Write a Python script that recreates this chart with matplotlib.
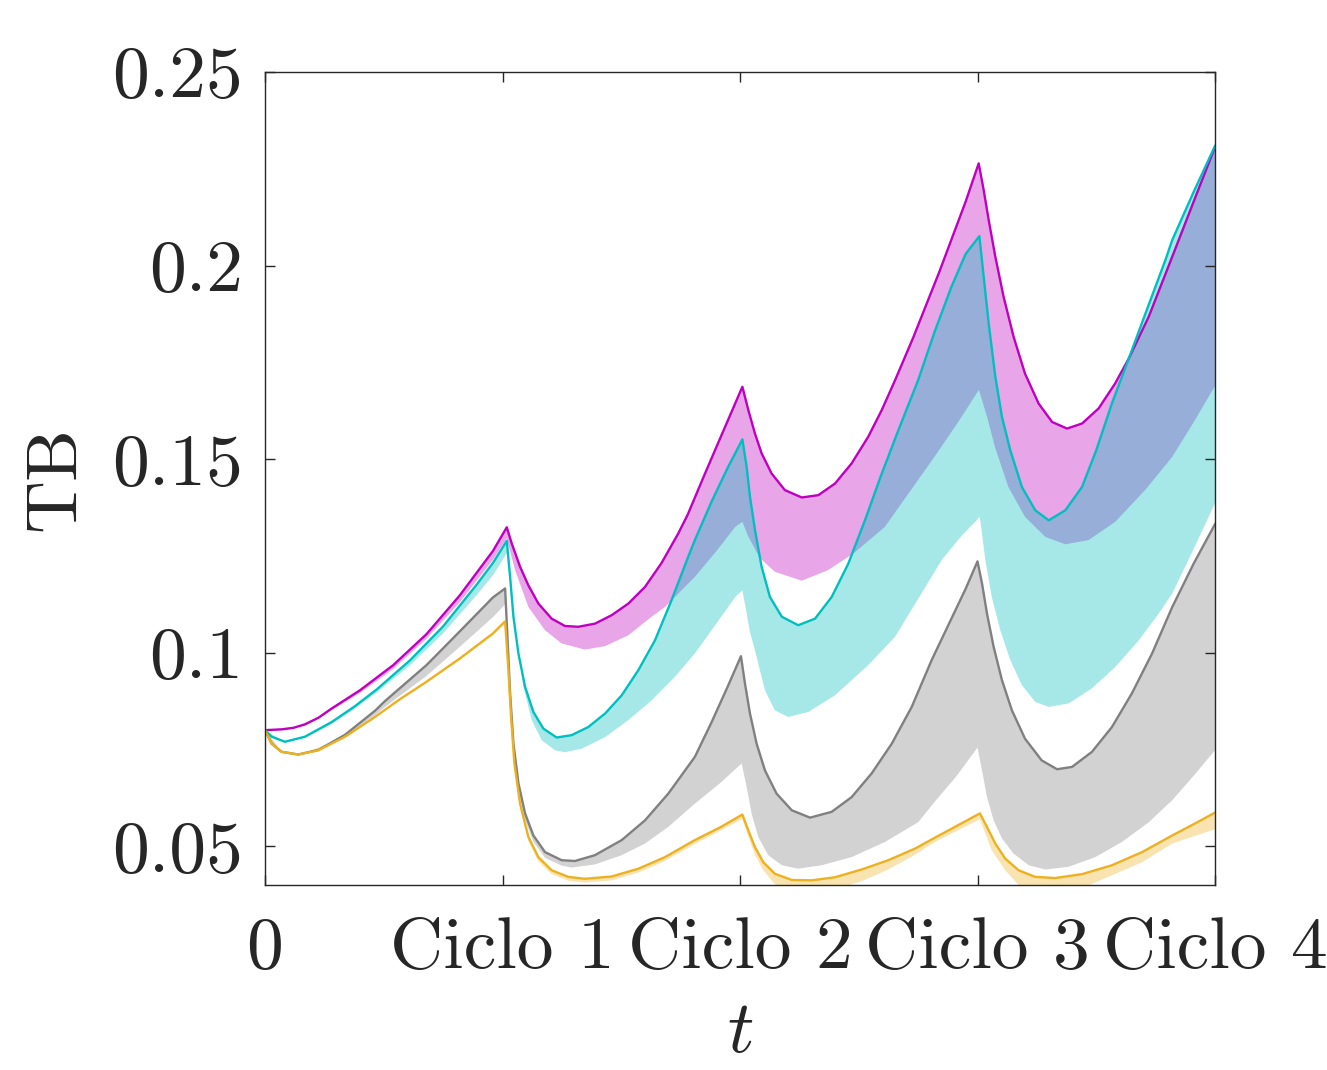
import numpy as np
import matplotlib
matplotlib.use("Agg")
import matplotlib.pyplot as plt

plt.rcParams['mathtext.fontset'] = 'cm'
plt.rcParams['font.family'] = 'cmr10'

# ---- values (t in cycles, TB) ----
mag_x = [0.00, 0.07, 0.12, 0.168, 0.225, 0.281, 0.40, 0.54, 0.68, 0.82, 0.96, 1.018, 1.039, 1.074,
         1.109, 1.151, 1.207, 1.263, 1.319, 1.389, 1.46, 1.53, 1.60, 1.67, 1.74, 1.78, 1.85,
         1.92, 1.97, 2.01, 2.035, 2.063, 2.091, 2.133, 2.189, 2.26, 2.33, 2.40, 2.47, 2.54,
         2.597, 2.653, 2.73, 2.84, 2.95, 3.005, 3.026, 3.047, 3.075, 3.11, 3.152, 3.20, 3.257,
         3.314, 3.377, 3.44, 3.51, 3.58, 3.637, 3.721, 3.82, 3.91, 4.00]
mag_y = [0.0800, 0.0802, 0.0806, 0.0815, 0.0832, 0.0856, 0.0903, 0.0968, 0.1048, 0.1148, 0.1263,
         0.1324, 0.1282, 0.1222, 0.1174, 0.1127, 0.1088, 0.1069, 0.1067, 0.1075, 0.1097, 0.1127,
         0.1170, 0.1232, 0.1308, 0.1357, 0.1459, 0.1559, 0.1630, 0.1687, 0.1627, 0.1566, 0.1515,
         0.1463, 0.1420, 0.1401, 0.1407, 0.1437, 0.1489, 0.1558, 0.1627, 0.1704, 0.1815, 0.1985,
         0.2165, 0.2264, 0.2195, 0.2118, 0.2023, 0.1919, 0.1816, 0.1721, 0.1644, 0.1596, 0.1579,
         0.1592, 0.1631, 0.1696, 0.1760, 0.1868, 0.2023, 0.2165, 0.2306]
mag_lo_x = [0.00, 0.168, 0.281, 0.40, 0.54, 0.68, 0.82, 0.96, 1.018, 1.053, 1.109, 1.179, 1.249,
            1.347, 1.432, 1.53, 1.628, 1.684, 1.81, 1.90, 1.98, 2.01, 2.035, 2.084, 2.147, 2.26,
            2.37, 2.477, 2.61, 2.82, 2.92, 3.006, 3.04, 3.074, 3.13, 3.20, 3.286, 3.37, 3.468,
            3.58, 3.707, 3.82, 3.91, 4.00]
mag_lo_y = [0.0800, 0.0811, 0.0852, 0.0896, 0.0958, 0.1036, 0.1130, 0.1240, 0.1295, 0.1213,
            0.1118, 0.1058, 0.1024, 0.1008, 0.1017, 0.1045, 0.1093, 0.1118, 0.1196, 0.1262,
            0.1325, 0.1338, 0.1300, 0.1244, 0.1209, 0.1186, 0.1213, 0.1256, 0.1325, 0.1507,
            0.1597, 0.1679, 0.1610, 0.1530, 0.1428, 0.1351, 0.1299, 0.1280, 0.1291, 0.1338,
            0.1421, 0.1506, 0.1595, 0.1689]

cyn_x = [0.00, 0.028, 0.084, 0.168, 0.281, 0.379, 0.47, 0.61, 0.75, 0.89, 0.96, 1.018, 1.032,
         1.046, 1.067, 1.095, 1.13, 1.172, 1.228, 1.291, 1.361, 1.432, 1.502, 1.572, 1.642,
         1.712, 1.782, 1.81, 1.88, 1.95, 2.01, 2.028, 2.042, 2.063, 2.091, 2.126, 2.176, 2.245,
         2.316, 2.386, 2.456, 2.526, 2.597, 2.667, 2.75, 2.82, 2.89, 2.95, 3.008, 3.026, 3.047,
         3.075, 3.103, 3.138, 3.187, 3.243, 3.30, 3.37, 3.44, 3.50, 3.566, 3.637, 3.707, 3.791,
         3.82, 3.91, 4.00]
cyn_y = [0.0800, 0.0783, 0.0770, 0.0783, 0.0821, 0.0862, 0.0905, 0.0980, 0.1068, 0.1175, 0.1232,
         0.1289, 0.1196, 0.1093, 0.0998, 0.0912, 0.0847, 0.0804, 0.0781, 0.0787, 0.0808, 0.0843,
         0.0890, 0.0955, 0.1032, 0.1136, 0.1248, 0.1291, 0.1390, 0.1480, 0.1551, 0.1480, 0.1403,
         0.1317, 0.1222, 0.1144, 0.1093, 0.1071, 0.1088, 0.1144, 0.1230, 0.1342, 0.1463, 0.1575,
         0.1704, 0.1830, 0.1945, 0.2030, 0.2076, 0.1971, 0.1851, 0.1713, 0.1609, 0.1523, 0.1428,
         0.1368, 0.1342, 0.1368, 0.1428, 0.1523, 0.1644, 0.1760, 0.1876, 0.2014, 0.2066, 0.2190,
         0.2309]
cyn_lo_x = [0.00, 0.084, 0.168, 0.281, 0.379, 0.47, 0.61, 0.75, 0.89, 0.96, 1.018, 1.039, 1.06,
            1.088, 1.123, 1.165, 1.221, 1.263, 1.333, 1.432, 1.53, 1.628, 1.726, 1.81, 1.90,
            1.98, 2.01, 2.028, 2.04, 2.063, 2.105, 2.147, 2.203, 2.288, 2.40, 2.54, 2.653, 2.85,
            2.93, 3.01, 3.033, 3.06, 3.096, 3.138, 3.187, 3.243, 3.30, 3.384, 3.482, 3.58, 3.679,
            3.763, 3.82, 3.91, 4.00]
cyn_lo_y = [0.0800, 0.0768, 0.0780, 0.0816, 0.0856, 0.0897, 0.0967, 0.1050, 0.1148, 0.1200,
            0.1257, 0.1154, 0.1025, 0.0912, 0.0826, 0.0774, 0.0748, 0.0743, 0.0752, 0.0782,
            0.0826, 0.0877, 0.0938, 0.0998, 0.1075, 0.1144, 0.1161, 0.1102, 0.1058, 0.1006,
            0.0903, 0.0851, 0.0834, 0.0847, 0.0890, 0.0968, 0.1041, 0.1240, 0.1300, 0.1351,
            0.1239, 0.1144, 0.1058, 0.0981, 0.0916, 0.0873, 0.0860, 0.0869, 0.0908, 0.0963,
            0.1032, 0.1101, 0.1153, 0.1268, 0.1386]

gry_x = [0.00, 0.028, 0.07, 0.14, 0.225, 0.337, 0.463, 0.505, 0.68, 0.82, 0.96, 1.011, 1.022,
         1.032, 1.046, 1.067, 1.095, 1.13, 1.179, 1.249, 1.305, 1.389, 1.502, 1.60, 1.698, 1.81,
         1.88, 1.95, 2.004, 2.021, 2.042, 2.07, 2.105, 2.154, 2.218, 2.295, 2.386, 2.47, 2.554,
         2.639, 2.723, 2.807, 2.88, 2.95, 3.0, 3.019, 3.04, 3.068, 3.103, 3.145, 3.20, 3.27,
         3.335, 3.398, 3.482, 3.566, 3.65, 3.735, 3.82, 3.91, 4.00]
gry_y = [0.0800, 0.0765, 0.0744, 0.0737, 0.0749, 0.0788, 0.0850, 0.0875, 0.0968, 0.1055, 0.1143,
         0.1166, 0.1025, 0.0895, 0.0766, 0.0663, 0.0585, 0.0528, 0.0485, 0.0464, 0.0462, 0.0477,
         0.0516, 0.0567, 0.0636, 0.0731, 0.0820, 0.0915, 0.0991, 0.0920, 0.0843, 0.0765, 0.0696,
         0.0636, 0.0593, 0.0574, 0.0589, 0.0627, 0.0688, 0.0765, 0.0860, 0.0981, 0.1075, 0.1165,
         0.1236, 0.1179, 0.1101, 0.1015, 0.0929, 0.0851, 0.0778, 0.0722, 0.0699, 0.0705, 0.0744,
         0.0808, 0.0895, 0.0998, 0.1118, 0.1230, 0.1332]
gry_lo_x = [0.00, 0.07, 0.14, 0.225, 0.337, 0.463, 0.505, 0.68, 0.82, 0.96, 1.011, 1.022, 1.032,
            1.046, 1.067, 1.095, 1.13, 1.179, 1.249, 1.291, 1.389, 1.502, 1.60, 1.698, 1.81,
            1.92, 2.007, 2.028, 2.049, 2.077, 2.119, 2.176, 2.245, 2.344, 2.47, 2.61, 2.75, 2.82,
            2.91, 3.0, 3.019, 3.04, 3.068, 3.103, 3.152, 3.216, 3.286, 3.384, 3.496, 3.608,
            3.721, 3.82, 3.91, 4.00]
gry_lo_y = [0.0800, 0.0743, 0.0736, 0.0747, 0.0784, 0.0838, 0.0860, 0.0940, 0.1015, 0.1092,
            0.1125, 0.1000, 0.0870, 0.0745, 0.0645, 0.0568, 0.0512, 0.0470, 0.0450, 0.0445,
            0.0453, 0.0477, 0.0507, 0.0550, 0.0610, 0.0665, 0.0714, 0.0653, 0.0584, 0.0524,
            0.0477, 0.0451, 0.0442, 0.0451, 0.0472, 0.0511, 0.0562, 0.0615, 0.0680, 0.0755,
            0.0696, 0.0627, 0.0567, 0.0520, 0.0481, 0.0451, 0.0440, 0.0447, 0.0472, 0.0511,
            0.0562, 0.0619, 0.0682, 0.0748]

org_x = [0.00, 0.028, 0.07, 0.14, 0.225, 0.337, 0.463, 0.561, 0.68, 0.82, 0.96, 1.011, 1.025,
         1.036, 1.05, 1.074, 1.109, 1.151, 1.207, 1.277, 1.347, 1.46, 1.572, 1.684, 1.81, 1.92,
         2.01, 2.035, 2.063, 2.098, 2.147, 2.218, 2.302, 2.40, 2.512, 2.624, 2.737, 2.82, 2.92,
         3.01, 3.04, 3.075, 3.117, 3.173, 3.243, 3.327, 3.44, 3.566, 3.693, 3.82, 3.91, 4.00]
org_y = [0.0800, 0.0765, 0.0744, 0.0737, 0.0748, 0.0783, 0.0834, 0.0877, 0.0925, 0.0985, 0.1050,
         0.1081, 0.0955, 0.0834, 0.0714, 0.0610, 0.0524, 0.0472, 0.0438, 0.0421, 0.0416, 0.0422,
         0.0442, 0.0472, 0.0516, 0.0550, 0.0582, 0.0541, 0.0498, 0.0459, 0.0429, 0.0413, 0.0412,
         0.0420, 0.0440, 0.0464, 0.0494, 0.0522, 0.0555, 0.0585, 0.0550, 0.0507, 0.0468, 0.0438,
         0.0421, 0.0418, 0.0428, 0.0451, 0.0485, 0.0528, 0.0557, 0.0587]
org_lo_x = [0.00, 0.07, 0.14, 0.337, 0.561, 0.82, 0.96, 1.011, 1.025, 1.036, 1.05, 1.074, 1.109,
            1.151, 1.207, 1.277, 1.347, 1.46, 1.572, 1.684, 1.81, 2.01, 2.035, 2.063, 2.098,
            2.147, 2.218, 2.302, 2.40, 2.512, 2.624, 2.737, 2.82, 3.01, 3.06, 3.117, 3.173, 3.243,
            3.327, 3.44, 3.566, 3.693, 3.82, 4.00]
org_lo_y = [0.0800, 0.0743, 0.0736, 0.0781, 0.0874, 0.0981, 0.1045, 0.1076, 0.0948, 0.0826,
            0.0705, 0.0600, 0.0513, 0.0461, 0.0428, 0.0411, 0.0406, 0.0412, 0.0432, 0.0462,
            0.0506, 0.0570, 0.0525, 0.0478, 0.0438, 0.0402, 0.0385, 0.0380, 0.0388, 0.0410,
            0.0440, 0.0478, 0.0511, 0.0570, 0.0490, 0.0438, 0.0400, 0.0380, 0.0375, 0.0392,
            0.0425, 0.0459, 0.0507, 0.0544]

tick_pos = [0, 1, 2, 3, 4]
tick_lab = ['0', 'Ciclo 1', 'Ciclo 2', 'Ciclo 3', 'Ciclo 4']
y_ticks = [0.05, 0.1, 0.15, 0.2, 0.25]
y_lab = ['0.05', '0.1', '0.15', '0.2', '0.25']

series = [
    (mag_x, mag_y, mag_lo_x, mag_lo_y, '#BF00BF'),
    (cyn_x, cyn_y, cyn_lo_x, cyn_lo_y, '#00BFBF'),
    (gry_x, gry_y, gry_lo_x, gry_lo_y, '#808080'),
    (org_x, org_y, org_lo_x, org_lo_y, '#EDB120'),
]

fig = plt.figure(figsize=(13.27, 10.70), dpi=100)
ax = fig.add_axes([0.1997, 0.1729, 0.7159, 0.7598])

# band = polygon between the curve and its lower edge, then the curve on top
for x, y, xl, yl, c in series:
    px = np.r_[x, xl[::-1]]
    py = np.r_[y, yl[::-1]]
    ax.fill(px, py, color=c, alpha=0.35, lw=0)
    ax.plot(x, y, color=c, lw=1.7, solid_joinstyle='round')

ax.set_xlim(0, 4)
ax.set_ylim(0.04, 0.25)
ax.set_xticks(tick_pos)
ax.set_xticklabels(tick_lab)
ax.set_yticks(y_ticks)
ax.set_yticklabels(y_lab)

axcol = '#262626'
for s in ax.spines.values():
    s.set_color(axcol)
    s.set_linewidth(1.0)
ax.tick_params(direction='in', length=7, width=1.0, color=axcol, labelcolor=axcol,
               labelsize=53, top=True, right=True)
ax.tick_params(axis='y', pad=16)
ax.tick_params(axis='x', pad=23)

ax.set_xlabel(r'$t$', fontsize=53, color=axcol, labelpad=14)
ax.set_ylabel('TB', fontsize=53, color=axcol, labelpad=16)

fig.savefig('out.png', dpi=100)
